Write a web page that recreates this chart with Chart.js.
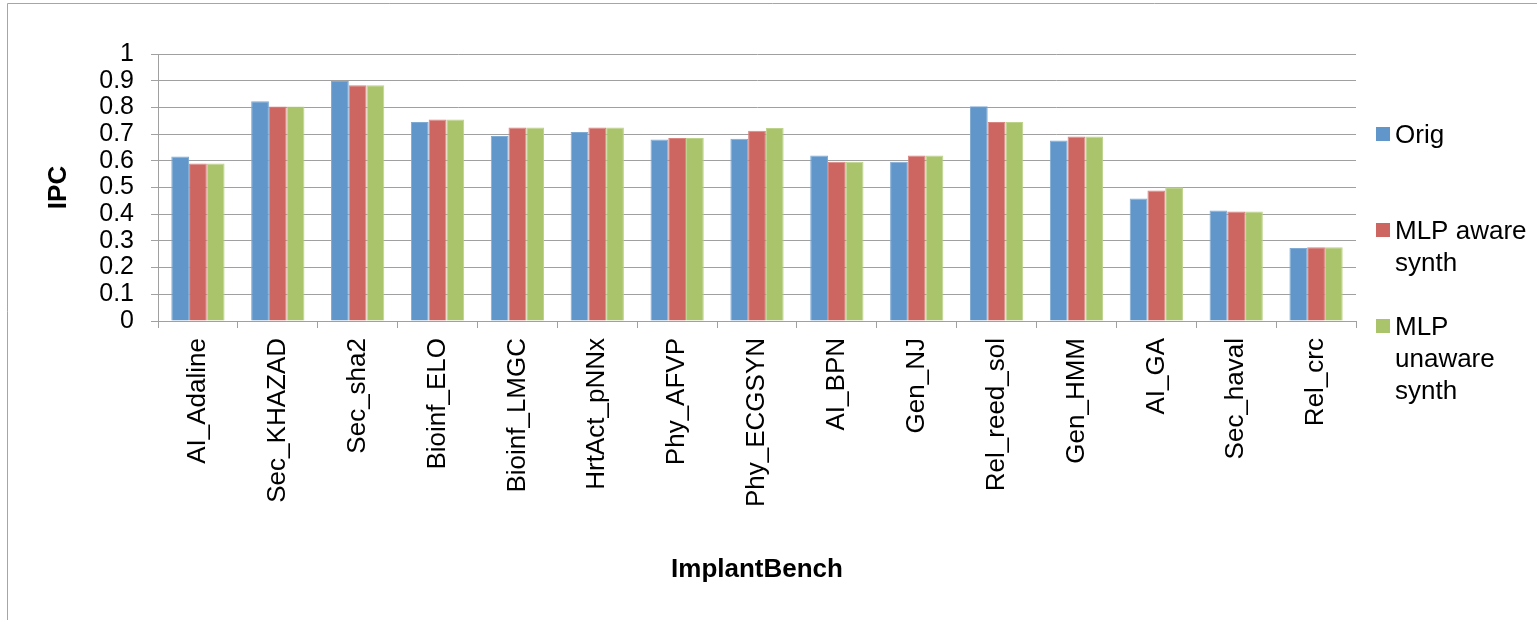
<!DOCTYPE html>
<html>
<head>
<meta charset="utf-8">
<script src="https://cdn.jsdelivr.net/npm/chart.js@4/dist/chart.umd.min.js"></script>
<style>
  html, body { margin: 0; padding: 0; background: #ffffff; }
  #wrap { width: 1537px; height: 620px; position: relative; }
</style>
</head>
<body>
<div id="wrap"><canvas id="c" width="1537" height="620"></canvas></div>
<script>
const categories = ['AI_Adaline','Sec_KHAZAD','Sec_sha2','Bioinf_ELO','Bioinf_LMGC','HrtAct_pNNx','Phy_AFVP','Phy_ECGSYN','AI_BPN','Gen_NJ','Rel_reed_sol','Gen_HMM','AI_GA','Sec_haval','Rel_crc'];
const seriesNames = ['Orig', 'MLP aware synth', 'MLP unaware synth'];
const origValues    = [0.616, 0.823, 0.899, 0.745, 0.693, 0.708, 0.680, 0.683, 0.620, 0.596, 0.804, 0.676, 0.459, 0.414, 0.273];
const awareValues   = [0.590, 0.803, 0.883, 0.755, 0.725, 0.725, 0.685, 0.713, 0.596, 0.620, 0.745, 0.691, 0.489, 0.410, 0.276];
const unawareValues = [0.590, 0.803, 0.883, 0.755, 0.725, 0.725, 0.685, 0.723, 0.596, 0.620, 0.745, 0.691, 0.501, 0.410, 0.276];
const yTickLabels = ['0','0.1','0.2','0.3','0.4','0.5','0.6','0.7','0.8','0.9','1'];
const xTitle = 'ImplantBench';
const yTitle = 'IPC';

const FONT = "'Liberation Sans', Arial, sans-serif";
const fills = ['#6096C9', '#CD6660', '#AAC46C'];
const edges = ['#7FAAD4', '#D98580', '#BDD28A'];

const frameAndLegend = {
  id: 'frameAndLegend',
  beforeDraw(chart) {
    const ctx = chart.ctx;
    ctx.save();
    ctx.strokeStyle = '#a6a6a6';
    ctx.lineWidth = 1;
    ctx.beginPath();
    ctx.moveTo(7.5, 620);
    ctx.lineTo(7.5, 3.5);
    ctx.lineTo(1537, 3.5);
    ctx.stroke();
    ctx.restore();
  },
  afterDraw(chart) {
    const ctx = chart.ctx;
    const area = chart.chartArea;
    ctx.save();
    ctx.font = '26px ' + FONT;
    ctx.textBaseline = 'middle';
    ctx.textAlign = 'left';
    const boxX = area.right + 20;
    const textX = boxX + 19;
    const maxW = 140;
    const firstCenters = [134, 230, 326];
    const lineH = 32;
    chart.data.datasets.forEach((ds, i) => {
      const words = ds.label.split(' ');
      const lines = [];
      let cur = '';
      words.forEach(w => {
        const t = cur ? cur + ' ' + w : w;
        if (cur && ctx.measureText(t).width > maxW) { lines.push(cur); cur = w; }
        else cur = t;
      });
      if (cur) lines.push(cur);
      const cy = firstCenters[i];
      ctx.fillStyle = ds.backgroundColor;
      ctx.fillRect(boxX, cy - 7, 14, 14);
      ctx.fillStyle = '#000000';
      lines.forEach((ln, k) => ctx.fillText(ln, textX, cy + 2 + k * lineH));
    });
    ctx.restore();
  }
};

new Chart(document.getElementById('c'), {
  type: 'bar',
  data: {
    labels: categories,
    datasets: [
      { label: seriesNames[0], data: origValues, backgroundColor: fills[0], borderColor: edges[0], borderWidth: 1 },
      { label: seriesNames[1], data: awareValues, backgroundColor: fills[1], borderColor: edges[1], borderWidth: 1 },
      { label: seriesNames[2], data: unawareValues, backgroundColor: fills[2], borderColor: edges[2], borderWidth: 1 }
    ]
  },
  options: {
    responsive: false,
    animation: false,
    devicePixelRatio: 1,
    layout: { padding: { left: 0, top: 54, right: 181, bottom: 0 } },
    datasets: { bar: { categoryPercentage: 0.667, barPercentage: 1.0 } },
    plugins: { legend: { display: false }, tooltip: { enabled: false } },
    scales: {
      x: {
        afterFit(scale) { scale.height = 299; },
        grid: { display: true, drawOnChartArea: false, drawTicks: true, tickLength: 7, color: '#a0a0a0', offset: true },
        border: { display: true, color: '#a0a0a0', width: 1 },
        ticks: {
          autoSkip: false, maxRotation: 90, minRotation: 90, padding: 10,
          color: '#000000', font: { family: FONT, size: 26 }
        },
        title: {
          display: true, text: xTitle, color: '#000000',
          font: { family: FONT, size: 26, weight: 'bold' },
          padding: { top: 0, bottom: 35 }
        }
      },
      y: {
        min: 0, max: 1,
        afterFit(scale) { scale.width = 158; },
        grid: { color: '#a0a0a0', lineWidth: 1, drawTicks: true, tickLength: 7 },
        border: { display: true, color: '#a0a0a0', width: 1 },
        ticks: {
          stepSize: 0.1, autoSkip: false, padding: 17, color: '#000000',
          font: { family: FONT, size: 25, lineHeight: 1.0 },
          callback: (v, i) => yTickLabels[i]
        },
        title: {
          display: true, text: yTitle, color: '#000000',
          font: { family: FONT, size: 26, weight: 'bold' },
          padding: { top: 43, bottom: 0 }
        }
      }
    }
  },
  plugins: [frameAndLegend]
});
</script>
</body>
</html>
